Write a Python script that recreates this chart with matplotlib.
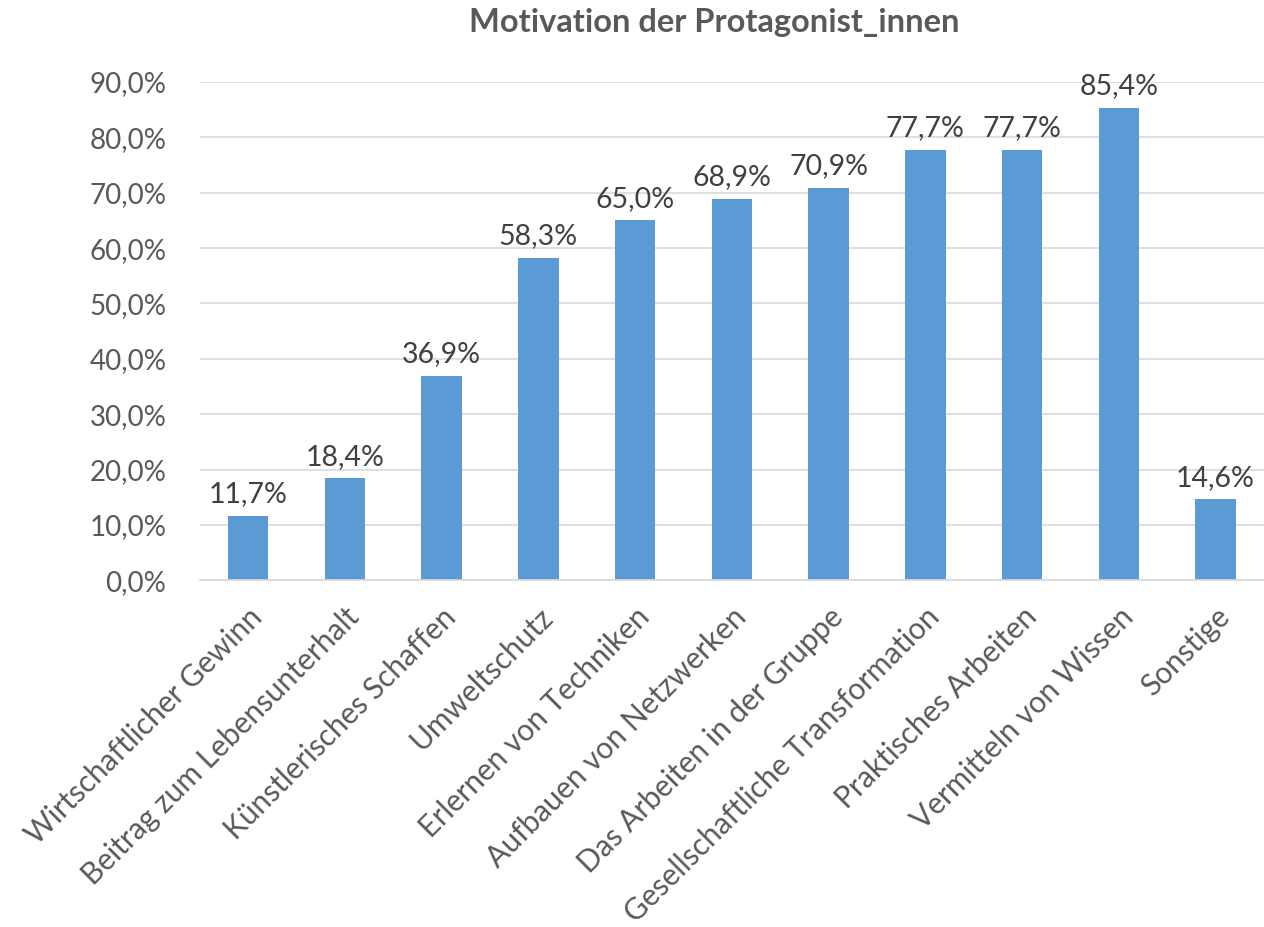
import matplotlib
matplotlib.use("Agg")
import matplotlib.pyplot as plt

categories = ["Wirtschaftlicher Gewinn", "Beitrag zum Lebensunterhalt", "Künstlerisches Schaffen",
              "Umweltschutz", "Erlernen von Techniken", "Aufbauen von Netzwerken",
              "Das Arbeiten in der Gruppe", "Gesellschaftliche Transformation",
              "Praktisches Arbeiten", "Vermitteln von Wissen", "Sonstige"]
values = [11.7, 18.4, 36.9, 58.3, 65.0, 68.9, 70.9, 77.7, 77.7, 85.4, 14.6]
yticks = [0, 10, 20, 30, 40, 50, 60, 70, 80, 90]

plt.rcParams['font.family'] = ['Lato', 'DejaVu Sans']

fig = plt.figure(figsize=(12.64, 9.27), dpi=100)
ax = fig.add_axes([0.158, 0.374, 0.842, 0.5375])

x = list(range(len(categories)))
ax.bar(x, values, width=0.42, color="#5B9BD5", zorder=3)
for xi, v in zip(x, values):
    ax.text(xi, v + 1.6, f"{v:.1f}%".replace(".", ","), ha="center", va="bottom",
            fontsize=20.5, color="#404040")

ax.set_xlim(-0.5, len(categories) - 0.5)
ax.set_ylim(0, 90)
ax.set_yticks(yticks)
ax.set_yticklabels([f"{t:.1f}%".replace(".", ",") for t in yticks], fontsize=20, color="#595959")
ax.set_xticks(x)
ax.set_xticklabels(categories, rotation=45, ha="right", rotation_mode="anchor",
                   fontsize=21.5, color="#595959")
ax.tick_params(axis="both", length=0)
ax.tick_params(axis="y", pad=24)
ax.tick_params(axis="x", pad=16)
ax.grid(axis="y", color="#D9D9D9", linewidth=1.2, zorder=0)
for s in ["top", "right", "left"]:
    ax.spines[s].set_visible(False)
ax.spines["bottom"].set_color("#D9D9D9")
ax.spines["bottom"].set_linewidth(1.2)
ax.spines["bottom"].set_zorder(4)

fig.text(0.565, 0.976, "Motivation der Protagonist_innen", ha="center", va="center",
         fontsize=23.5, fontweight="bold", color="#595959")

fig.savefig("out.png", dpi=100, facecolor="white")
